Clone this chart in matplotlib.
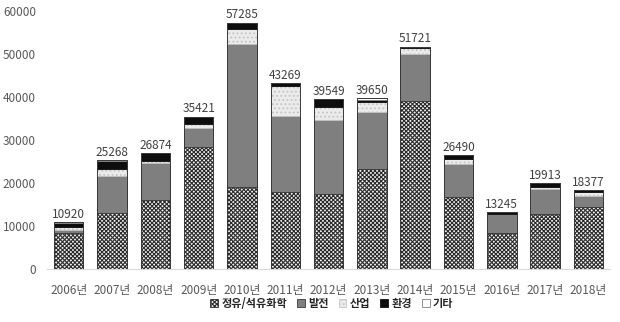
import matplotlib.pyplot as plt
import numpy as np
from matplotlib.patches import Patch

plt.rcParams["font.family"] = ["Noto Sans CJK KR", "DejaVu Sans"]
plt.rcParams["hatch.linewidth"] = 0.8

years = ["2006년", "2007년", "2008년", "2009년", "2010년", "2011년", "2012년",
         "2013년", "2014년", "2015년", "2016년", "2017년", "2018년"]

refinery = [8300, 12950, 16000, 28300, 19000, 17800, 17500, 23200, 39100, 16650, 8300, 12780, 14350]
power = [800, 8550, 8700, 4500, 33200, 17700, 17200, 13200, 10770, 7750, 4400, 5900, 2600]
industry = [650, 1700, 450, 900, 3600, 7000, 2900, 2450, 1550, 1160, 100, 450, 950]
environment = [900, 1950, 1700, 1700, 1400, 700, 1900, 400, 300, 930, 445, 780, 477]
other = [270, 118, 24, 21, 85, 69, 49, 400, 1, 0, 0, 3, 0]

series = [
    ("정유/석유화학", refinery, dict(facecolor="#f2f2f2", hatch="xxxxxxxx", edgecolor="#2a2a2a")),
    ("발전", power, dict(facecolor="#7f7f7f", edgecolor="#3a3a3a")),
    ("산업", industry, dict(facecolor="#ebebeb", hatch="....", edgecolor="#c4c4c4")),
    ("환경", environment, dict(facecolor="#0d0d0d", edgecolor="#0d0d0d")),
    ("기타", other, dict(facecolor="white", edgecolor="#7f7f7f")),
]

fig = plt.figure(figsize=(6.2, 3.22), dpi=100)
ax = fig.add_axes([0.076, 0.165, 0.908, 0.801])

x = np.arange(len(years))
bottom = np.zeros(len(years))
handles = []
for name, vals, style in series:
    vals = np.array(vals, dtype=float)
    ax.bar(x, vals, width=0.68, bottom=bottom, linewidth=0.6, **style)
    bottom += vals
    handles.append(Patch(label=name, linewidth=0.6, **style))

# outline each full stack
ax.bar(x, bottom, width=0.68, facecolor="none", edgecolor="#3a3a3a", linewidth=0.7)

for xi, total in zip(x, bottom):
    ax.text(xi, total + 300, f"{int(round(total))}", ha="center", va="bottom",
            fontsize=8.5, color="#404040")

ax.set_xlim(-0.5, 12.5)
ax.set_ylim(0, 60000)
ax.set_yticks(np.arange(0, 60001, 10000))
ax.set_xticks(x)
ax.set_xticklabels(years)
ax.tick_params(axis="both", length=0, labelsize=8.5, colors="#595959")
ax.tick_params(axis="x", pad=11)
ax.tick_params(axis="y", pad=8)
for side in ("top", "right", "left"):
    ax.spines[side].set_visible(False)
ax.spines["bottom"].set_color("#d9d9d9")

fig.legend(handles=handles, loc="center", bbox_to_anchor=(0.535, 0.058), ncol=5,
           frameon=False, handlelength=0.7, handleheight=0.7,
           handletextpad=0.3, columnspacing=0.9, labelcolor="#262626",
           prop={"weight": "bold", "size": 8})

fig.savefig("out.png", dpi=100)
